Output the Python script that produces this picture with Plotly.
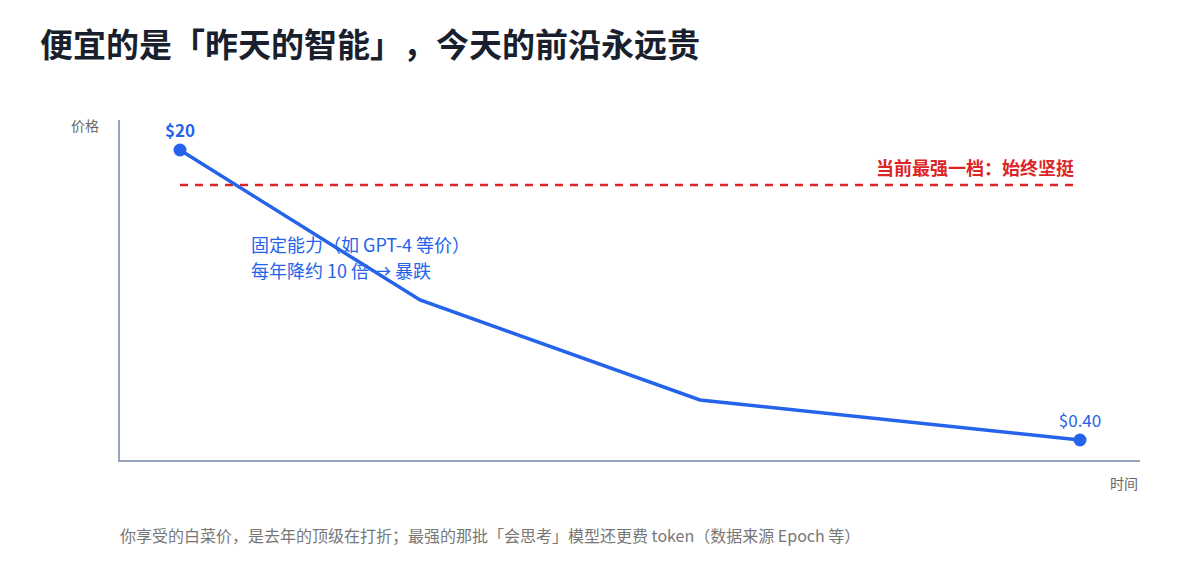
import plotly.graph_objects as go

# time positions and relative price height of the "fixed capability" line
time_pts = [0.6, 3.0, 5.8, 9.6]
price_lvl = [31.0, 16.0, 6.0, 2.0]
point_labels = ["$20", "", "", "$0.40"]
frontier_lvl = 27.5
frontier_span = [0.6, 9.6]

BLUE = "#2563eb"
RED = "#dc2626"
AXIS = "#94a3b8"
FONT = "Noto Sans CJK SC, Noto Sans, sans-serif"
# keep CJK punctuation at full width
FW = "<span style='text-spacing-trim:space-all'>{}</span>"

# page has an 8px body margin; plot area sits at 120..1140 x 120..460 on screen
def px(sx):
    return (sx - 120) / 1020

def py(sy):
    return (460 - sy) / 340

fig = go.Figure()

# frontier price dashed line
fig.add_trace(go.Scatter(x=frontier_span, y=[frontier_lvl, frontier_lvl], mode="lines",
                         line=dict(color=RED, width=2.5, dash="8px,7px"),
                         hoverinfo="skip"))

# falling price line
fig.add_trace(go.Scatter(x=time_pts, y=price_lvl, mode="lines",
                         line=dict(color=BLUE, width=3.5), hoverinfo="skip"))
fig.add_trace(go.Scatter(x=[time_pts[0], time_pts[-1]], y=[price_lvl[0], price_lvl[-1]],
                         mode="markers+text", marker=dict(color=BLUE, size=13),
                         text=["<b>" + point_labels[0] + "</b>", point_labels[-1]],
                         textposition="top center",
                         textfont=dict(color=BLUE, size=17, family=FONT),
                         hoverinfo="skip"))

anns = [
    dict(x=px(1076), y=frontier_lvl, xref="paper", yref="y", text="<b>当前最强一档：始终坚挺</b>",
         showarrow=False, xanchor="right", yanchor="bottom", yshift=3,
         font=dict(color=RED, size=18, family=FONT)),
    dict(x=px(249), y=py(244), xref="paper", yref="paper",
         text=FW.format("固定能力（如 GPT-4 等价）"),
         showarrow=False, xanchor="left", yanchor="middle",
         font=dict(color=BLUE, size=18, family=FONT)),
    dict(x=px(249), y=py(270), xref="paper", yref="paper",
         text=FW.format("每年降约 10 倍 → 暴跌"),
         showarrow=False, xanchor="left", yanchor="middle",
         font=dict(color=BLUE, size=18, family=FONT)),
    dict(x=px(101), y=py(125), xref="paper", yref="paper", text="价格",
         showarrow=False, xanchor="right", yanchor="middle",
         font=dict(color="#666666", size=14, family=FONT)),
    dict(x=px(1140), y=py(483), xref="paper", yref="paper", text="时间",
         showarrow=False, xanchor="right", yanchor="middle",
         font=dict(color="#666666", size=14, family=FONT)),
    dict(x=px(118), y=py(535), xref="paper", yref="paper",
         text=FW.format("你享受的白菜价，是去年的顶级在打折；最强的那批「会思考」模型还更费 token（数据来源 Epoch 等）"),
         showarrow=False, xanchor="left", yanchor="middle",
         font=dict(color="#777777", size=16, family=FONT)),
]

fig.update_layout(
    width=1200, height=580,
    margin=dict(l=112, r=68, t=112, b=128),
    paper_bgcolor="white", plot_bgcolor="white",
    showlegend=False,
    title=dict(text="<b>" + FW.format("便宜的是「昨天的智能」，今天的前沿永远贵") + "</b>",
               x=32 / 1200, xanchor="left", y=1 - 37 / 580, yanchor="middle",
               font=dict(size=33, color="#1a1f2e", family=FONT)),
    xaxis=dict(range=[0, 10.2], showgrid=False, zeroline=False, showticklabels=False,
               ticks="", showline=True, linecolor=AXIS, linewidth=2, fixedrange=True),
    yaxis=dict(range=[0, 34], showgrid=False, zeroline=False, showticklabels=False,
               ticks="", showline=True, linecolor=AXIS, linewidth=2, fixedrange=True),
    annotations=anns,
)

fig.write_html("out.html")
